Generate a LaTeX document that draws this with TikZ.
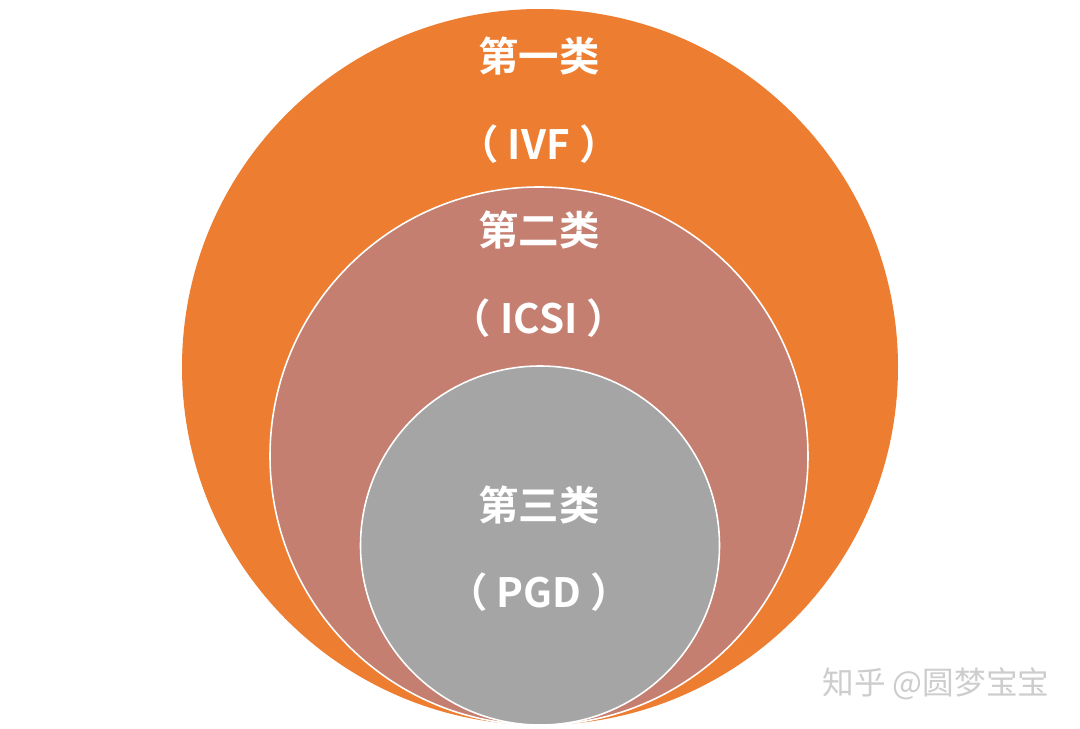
\documentclass[tikz,border=0pt]{standalone}
\usepackage{fontspec}
\newfontfamily\cjkbold{Noto Sans CJK SC Bold}
\newfontfamily\cjk{Noto Sans CJK SC}
\usetikzlibrary{positioning}
\definecolor{ivforange}{RGB}{237,125,49}
\definecolor{icsirose}{RGB}{196,127,112}
\definecolor{pgdgray}{RGB}{165,165,165}
\definecolor{markgray}{RGB}{205,205,205}

\begin{document}
\begin{tikzpicture}[
			x=0.02cm, y=0.02cm,
			ring/.style={draw=white, line width=0.9pt},
			label/.style={text=white, font=\cjkbold\fontsize{23}{23}\selectfont, inner sep=0pt},
			watermark/.style={text=markgray, font=\cjk\fontsize{18}{18}\selectfont, inner sep=0pt}
			]
			% Page frame
			\fill[white] (0,0) rectangle (1080,728);
			\useasboundingbox (0,0) rectangle (1080,728);
			
			% Nested circles, all touching at the bottom
			\fill[ivforange] (540,361) circle (358);
			\filldraw[ring, fill=icsirose] (539,272) circle (269);
			\filldraw[ring, fill=pgdgray] (540,182.5) circle (179.5);
			
			\node[label] (c1) at (539,672) {第一类};
			\node[label] (ivf) at (539,584) {（ IVF ）};
			\node[label] (c2) at (539,498) {第二类};
			\node[label] (icsi) at (539,410) {（ ICSI ）};
			\node[label] (c3) at (539,223) {第三类};
			\node[label] (pgd) at (539,136) {（ PGD ）};
			
			% Watermark
			\node[watermark] (zhihu) at (936,44) {知乎 @圆梦宝宝};
		\end{tikzpicture}
\end{document}
